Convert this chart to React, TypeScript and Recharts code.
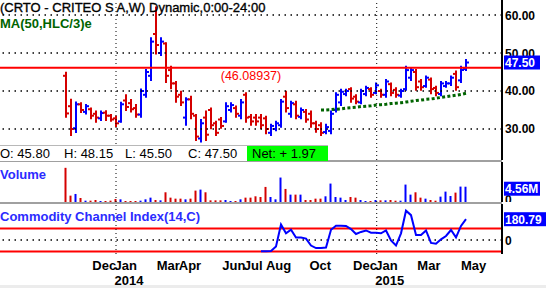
import React from "react";
import {
  ComposedChart,
  BarChart,
  LineChart,
  Bar,
  Line,
  XAxis,
  YAxis,
  ReferenceLine,
  Cell,
} from "recharts";

// weekly bars, CRTO, Oct 2013 - May 2015
const opens = [
  44.0, 36.0, 30.2, 36.5, 34.5, 35.2, 34.0, 32.8, 34.3, 33.5,
  32.8, 32.0, 37.5, 36.8, 35.5, 33.8, 39.0, 44.0, 55.0, 50.0,
  52.5, 45.5, 42.0, 39.0, 33.0, 37.8, 33.5, 27.5, 33.0, 35.0,
  31.5, 32.5, 32.0, 35.0, 35.5, 33.5, 39.0, 33.2, 33.0, 33.0,
  32.8, 29.0, 30.0, 31.0, 38.5, 34.0, 36.5, 33.2, 34.5, 34.0,
  31.5, 31.0, 29.2, 29.5, 35.0, 37.0, 39.2, 40.5, 38.5, 37.0,
  39.2, 40.5, 39.5, 40.0, 39.0, 41.8, 40.3, 38.8, 40.5, 43.5,
  45.0, 42.5, 41.3, 43.0, 40.8, 39.2, 41.3, 42.0, 44.5, 42.8,
  45.8,
];
const highs = [
  44.8, 37.7, 37.0, 36.8, 36.3, 35.4, 34.6, 34.6, 34.7, 33.7,
  33.2, 36.9, 38.9, 37.6, 36.3, 40.4, 45.5, 53.9, 62.0, 53.9,
  52.6, 46.4, 42.4, 39.8, 38.1, 38.5, 33.7, 32.4, 34.6, 35.4,
  31.9, 32.9, 36.8, 36.8, 35.9, 37.6, 39.4, 33.7, 33.7, 33.7,
  33.2, 31.1, 31.9, 37.6, 39.8, 37.2, 37.2, 35.4, 35.0, 34.6,
  31.9, 31.5, 31.1, 34.6, 39.4, 40.3, 40.3, 40.7, 38.9, 40.3,
  41.1, 40.7, 42.0, 40.3, 42.9, 42.0, 40.7, 40.3, 46.4, 46.0,
  45.5, 42.9, 43.8, 43.3, 41.1, 42.4, 42.4, 43.8, 45.1, 46.4,
  48.15,
];
const lows = [
  33.2, 28.4, 29.2, 34.5, 34.1, 32.8, 31.9, 32.4, 32.4, 32.2,
  30.8, 31.9, 35.0, 34.6, 33.2, 33.2, 38.5, 42.9, 49.9, 49.5,
  42.4, 40.7, 37.2, 36.3, 31.1, 32.8, 27.1, 26.7, 27.1, 30.2,
  28.4, 30.3, 31.9, 34.6, 33.2, 32.8, 31.9, 31.1, 31.1, 30.2,
  28.9, 28.4, 29.7, 30.6, 34.6, 33.2, 32.8, 32.8, 31.9, 30.6,
  29.3, 28.4, 28.9, 28.9, 34.6, 36.3, 38.9, 37.2, 36.8, 36.8,
  38.9, 38.5, 39.4, 38.5, 38.5, 38.9, 38.5, 38.5, 40.3, 42.9,
  40.3, 40.3, 41.1, 39.4, 38.9, 38.9, 41.1, 41.6, 40.3, 42.4,
  45.5,
];
const closes = [
  34.1, 30.0, 36.5, 35.0, 36.0, 33.5, 33.0, 34.2, 33.5, 32.5,
  31.5, 36.5, 35.8, 35.2, 33.8, 40.0, 45.0, 53.0, 52.1, 53.0,
  44.0, 42.0, 38.5, 37.0, 37.8, 34.0, 28.0, 31.5, 28.5, 31.0,
  29.0, 30.8, 36.0, 36.3, 34.0, 37.0, 33.0, 32.0, 32.0, 31.0,
  30.0, 30.8, 31.5, 37.2, 35.5, 36.8, 33.5, 35.0, 32.5, 31.5,
  30.0, 29.0, 30.5, 34.0, 39.0, 39.8, 40.0, 38.0, 37.2, 40.0,
  40.8, 39.0, 41.5, 39.0, 42.5, 39.5, 39.0, 40.0, 45.5, 45.5,
  41.0, 41.0, 43.5, 40.5, 39.5, 42.0, 42.0, 43.5, 41.0, 45.53,
  47.5,
];
// millions of shares
const volumes = [
  10.2, 1.9, 2.4, 1.2, 0.4, 0.4, 0.6, 0.3, 0.3, 0.4,
  0.9, 0.8, 0.3, 0.3, 0.3, 0.4, 0.8, 1.3, 0.6, 0.5,
  2.9, 1.3, 1.0, 1.0, 0.8, 1.0, 3.4, 3.7, 2.9, 0.5,
  0.5, 0.5, 0.6, 0.3, 0.3, 0.8, 1.3, 1.3, 1.7, 1.5,
  4.5, 1.5, 0.8, 7.3, 3.9, 2.2, 2.2, 2.2, 0.6, 0.6,
  1.0, 1.0, 1.7, 5.5, 1.5, 1.3, 0.6, 1.5, 1.3, 0.6,
  0.3, 0.3, 0.6, 0.5, 0.5, 0.6, 0.4, 0.4, 5.2, 2.2,
  2.9, 1.3, 1.0, 0.6, 0.4, 1.6, 3.1, 1.8, 2.8, 4.6,
  4.56,
];
// MA(50,HLC/3)e, first shown on bar 51
const emaStart = 51;
const ema50 = [
  35.0, 35.0, 35.1, 35.2, 35.3, 35.5, 35.6, 35.7, 35.9, 36.0,
  36.1, 36.3, 36.4, 36.5, 36.7, 36.8, 36.9, 37.1, 37.3, 37.5,
  37.6, 37.8, 37.9, 38.1, 38.3, 38.5, 38.7, 38.9, 39.1, 39.4,
];
// CCI(14,C), first shown on bar 39
const cciStart = 39;
const cci14 = [
  -98, -98, -96, -57, 134, 58, 89, 22, 22, 12,
  -48, -70, -70, -66, 89, 124, 124, 122, 95, 52,
  70, 83, 64, 64, 58, 83, -3, -48, 58, 255,
  216, 43, 43, 83, -25, -33, 6, 35, 87, 23,
  122, 180.79,
];

const firstBarDate = "2013-10-23";
const monthTicks = [
  { label: "Dec", date: "2013-12-01", year: "" },
  { label: "Jan", date: "2014-01-01", year: "2014" },
  { label: "Mar", date: "2014-03-01", year: "" },
  { label: "Apr", date: "2014-04-01", year: "" },
  { label: "Jun", date: "2014-06-01", year: "" },
  { label: "Jul", date: "2014-07-01", year: "" },
  { label: "Aug", date: "2014-08-01", year: "" },
  { label: "Oct", date: "2014-10-01", year: "" },
  { label: "Dec", date: "2014-12-01", year: "" },
  { label: "Jan", date: "2015-01-01", year: "2015" },
  { label: "Mar", date: "2015-03-01", year: "" },
  { label: "May", date: "2015-05-01", year: "" },
];
const priceTicks = [60, 50, 40, 30];
const levelLine = 46.08937;
const cciBands = [100, -100];

const FONT = '"Liberation Sans", Arial, sans-serif';
const UP = "#0000ff";
const DOWN = "#d40000";
const LABEL_BLUE = "#2b2bff";

const weekMs = 7 * 24 * 3600 * 1000;
const weekOf = (d: string) => (Date.parse(d) - Date.parse(firstBarDate)) / weekMs;
const ticksAt = monthTicks.map((t) => ({ ...t, at: weekOf(t.date) }));
const yearLines = ticksAt.filter((t) => t.year).map((t) => t.at);

const rows = opens.map((o, i) => ({
  i,
  open: o,
  high: highs[i],
  low: lows[i],
  close: closes[i],
  volume: volumes[i],
  ma: i >= emaStart ? ema50[i - emaStart] : null,
  cci: i >= cciStart ? cci14[i - cciStart] : null,
}));

const last = rows[rows.length - 1];
const prevClose = closes[closes.length - 2];
const net = last.close - prevClose;

const xDomain = [-13.2, 87.2];
const noMargin = { top: 0, right: 0, bottom: 0, left: 0 };

function OhlcShape(props: any) {
  const { x, y, width, height, payload } = props;
  if (x == null || !payload) return null;
  const top = Math.min(y, y + height);
  const bot = Math.max(y, y + height);
  const cx = Math.round(x + width / 2);
  const span = payload.high - payload.low;
  const yOf = (v: number) => (span > 0 ? top + ((payload.high - v) / span) * (bot - top) : top);
  const color = payload.close >= payload.open ? UP : DOWN;
  const yo = yOf(payload.open);
  const yc = yOf(payload.close);
  return (
    <g stroke={color} strokeWidth={2}>
      <line x1={cx} x2={cx} y1={top - 1} y2={bot + 1} />
      <line x1={cx - 3} x2={cx} y1={yo} y2={yo} />
      <line x1={cx} x2={cx + 3} y1={yc} y2={yc} />
    </g>
  );
}

function boxTick(text: string, highlighted: boolean, dy = 0) {
  return function Tick(props: any) {
    const { x, y } = props;
    if (highlighted) {
      const w = text.length * 6.8 + 2;
      return (
        <g>
          <rect x={x - 1} y={y - 7 + dy} width={w} height={14} fill="#0000ff" />
          <text x={x} y={y + dy} dy={4.5} fill="#fff" fontSize={12} fontWeight="bold" fontFamily={FONT}>
            {text}
          </text>
        </g>
      );
    }
    return (
      <text x={x} y={y + dy} dy={4.5} fill="#000" fontSize={12} fontWeight="bold" fontFamily={FONT}>
        {text}
      </text>
    );
  };
}

function PriceTick(props: any) {
  const v = props.payload.value;
  const T = boxTick(v.toFixed(2), v === last.close);
  return <T {...props} />;
}

function VolumeTick(props: any) {
  const v = props.payload.value;
  const T = v === 0 ? boxTick("0", false, -3) : boxTick(v.toFixed(2) + "M", true, 2);
  return <T {...props} />;
}

function CciTick(props: any) {
  const v = props.payload.value;
  const T = v === 0 ? boxTick("0", false) : boxTick(v.toFixed(2), true);
  return <T {...props} />;
}

function MonthTick(props: any) {
  const { x, y, payload } = props;
  const t = ticksAt.find((m) => Math.abs(m.at - payload.value) < 1e-6);
  if (!t) return null;
  return (
    <g fontFamily={FONT} fontSize={13} fontWeight="bold" fill="#000">
      <text x={x - 1.5} y={y + 16} textAnchor="start">
        {t.label}
      </text>
      {t.year ? (
        <text x={x - 1.5} y={y + 31} textAnchor="start">
          {t.year}
        </text>
      ) : null}
    </g>
  );
}

function LevelLabel(props: any) {
  const vb = props.viewBox;
  if (!vb) return null;
  return (
    <text
      x={vb.x + vb.width / 2}
      y={vb.y + 12.5}
      textAnchor="middle"
      fill="#ff0000"
      fontSize={12.5}
      fontFamily={FONT}
    >
      ({levelLine})
    </text>
  );
}

const axisLine = { stroke: "#000", strokeWidth: 2 };

function YearLines() {
  return null;
}

export default function App() {
  const text = (extra: React.CSSProperties): React.CSSProperties => ({
    position: "absolute",
    whiteSpace: "nowrap",
    fontFamily: FONT,
    lineHeight: "14px",
    ...extra,
  });

  return (
    <div style={{ position: "absolute", left: 0, top: 0, width: 546, height: 288, background: "#fff", overflow: "hidden" }}>
      <div style={{ position: "absolute", left: 0, top: 0 }}>
        <ComposedChart width={546} height={160} data={rows} margin={noMargin}>
          <XAxis dataKey="i" type="number" domain={xDomain} hide allowDataOverflow />
          <YAxis
            orientation="right"
            width={44}
            domain={[21.84, 63.95]}
            allowDataOverflow
            ticks={[...priceTicks, last.close]}
            interval={0}
            tickSize={0}
            tickMargin={3}
            tickLine={false}
            axisLine={axisLine}
            tick={<PriceTick />}
          />
          {priceTicks.map((v) => (
            <ReferenceLine key={v} y={v} stroke="#000" strokeDasharray="1.5 4.5" strokeWidth={1.5} />
          ))}
          {yearLines.map((v) => (
            <ReferenceLine key={v} x={v} stroke="#000" strokeDasharray="1 3" />
          ))}
          <ReferenceLine y={levelLine} stroke="#ff0000" strokeWidth={2} label={<LevelLabel />} />
          <Bar dataKey={(d: any) => [d.low, d.high]} barSize={5} shape={<OhlcShape />} isAnimationActive={false} />
          <Line
            dataKey="ma"
            stroke="#006400"
            strokeWidth={3}
            strokeDasharray="3 2.3"
            dot={false}
            activeDot={false}
            isAnimationActive={false}
          />
        </ComposedChart>
      </div>

      <div style={{ position: "absolute", left: 0, top: 162 }}>
        <BarChart width={546} height={40} data={rows} margin={noMargin}>
          <XAxis dataKey="i" type="number" domain={xDomain} hide allowDataOverflow />
          <YAxis
            orientation="right"
            width={44}
            domain={[0, 11.94]}
            allowDataOverflow
            ticks={[0, last.volume]}
            interval={0}
            tickSize={0}
            tickMargin={3}
            tickLine={false}
            axisLine={axisLine}
            tick={<VolumeTick />}
          />
          {yearLines.map((v) => (
            <ReferenceLine key={v} x={v} stroke="#000" strokeDasharray="1 3" />
          ))}
          <Bar dataKey="volume" barSize={2} isAnimationActive={false}>
            {rows.map((r) => (
              <Cell key={r.i} fill={r.close >= r.open ? UP : DOWN} />
            ))}
          </Bar>
        </BarChart>
      </div>

      <div style={{ position: "absolute", left: 0, top: 204 }}>
        <LineChart width={546} height={84} data={rows} margin={noMargin}>
          <XAxis
            dataKey="i"
            type="number"
            domain={xDomain}
            allowDataOverflow
            ticks={ticksAt.map((t) => t.at)}
            interval={0}
            tick={<MonthTick />}
            tickSize={0}
            tickMargin={0}
            axisLine={false}
            tickLine={false}
            height={34}
          />
          <YAxis
            orientation="right"
            width={44}
            domain={[-121.7, 313]}
            allowDataOverflow
            ticks={[0, last.cci as number]}
            interval={0}
            tickSize={0}
            tickMargin={3}
            tickLine={false}
            axisLine={axisLine}
            tick={<CciTick />}
          />
          <ReferenceLine y={0} stroke="#000" strokeDasharray="1.5 4.5" strokeWidth={1.5} />
          {cciBands.map((v) => (
            <ReferenceLine key={v} y={v} stroke="#ff0000" strokeWidth={2} />
          ))}
          {yearLines.map((v) => (
            <ReferenceLine key={v} x={v} stroke="#000" strokeDasharray="1 3" />
          ))}
          <Line
            dataKey="cci"
            stroke="#0000ff"
            strokeWidth={2}
            dot={false}
            activeDot={false}
            isAnimationActive={false}
          />
        </LineChart>
      </div>

      {/* panel separators */}
      <div style={{ position: "absolute", left: 0, top: 160, width: 502, height: 2, background: "#a0a0a0" }} />
      <div style={{ position: "absolute", left: 0, top: 202, width: 502, height: 2, background: "#a0a0a0" }} />
      <div style={{ position: "absolute", left: 0, top: 285, width: 546, height: 3, background: "#ececec" }} />

      {/* OHLC info strip */}
      <div style={{ position: "absolute", left: 0, top: 145, width: 328, height: 15, background: "#fff", borderTop: "1px solid #b8b8b8" }} />
      <div style={text({ left: 0, top: 147, fontSize: 13, color: "#000" })}>O: {last.open.toFixed(2)}</div>
      <div style={text({ left: 64, top: 147, fontSize: 13, color: "#000" })}>H: {last.high.toFixed(2)}</div>
      <div style={text({ left: 125, top: 147, fontSize: 13, color: "#000" })}>L: {last.low.toFixed(2)}</div>
      <div style={text({ left: 188, top: 147, fontSize: 13, color: "#000" })}>C: {last.close.toFixed(2)}</div>
      <div style={{ position: "absolute", left: 247, top: 146, width: 81, height: 15, background: "#00ff00" }} />
      <div style={text({ left: 252, top: 147, fontSize: 13, color: "#000" })}>
        Net: {net >= 0 ? "+ " : "- "}
        {Math.abs(net).toFixed(2)}
      </div>

      {/* titles */}
      <div style={text({ left: 0, top: 1, fontSize: 13, color: "#000", WebkitTextStroke: "0.35px #000" })}>
        (CRTO - CRITEO S A,W) Dynamic,0:00-24:00
      </div>
      <div style={text({ left: 0, top: 17, fontSize: 13, fontWeight: "bold", color: "#006400" })}>MA(50,HLC/3)e</div>
      <div style={text({ left: 0, top: 168, fontSize: 13, fontWeight: "bold", color: LABEL_BLUE })}>Volume</div>
      <div style={text({ left: 0, top: 210, fontSize: 13, fontWeight: "bold", color: LABEL_BLUE })}>
        Commodity Channel Index(14,C)
      </div>
    </div>
  );
}
